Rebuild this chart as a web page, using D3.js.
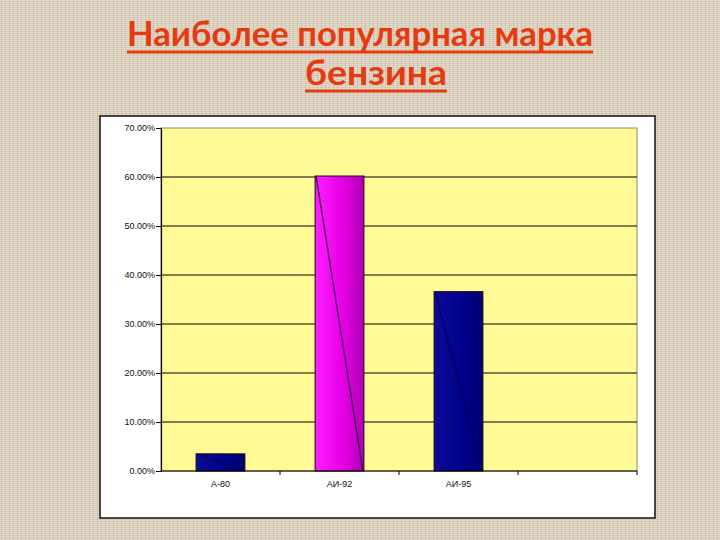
<!DOCTYPE html>
<html><head><meta charset="utf-8">
<script src="https://cdn.jsdelivr.net/npm/d3@7"></script>
<style>html,body{margin:0;padding:0;background:#DAD0BF;}svg{display:block;}</style>
</head><body>
<svg id="c" width="720" height="540"></svg>
<script>
const titleLines = ["Наиболее популярная марка", "бензина"];
const categories = ["А-80", "АИ-92", "АИ-95", ""];
const values = [3.5, 60.2, 36.6, null];
const barColors = ["navy", "magenta", "navy", null];
const yTicks = [0, 10, 20, 30, 40, 50, 60, 70];

const svg = d3.select("#c");
const defs = svg.append("defs");

// linen-like background texture
const pat = defs.append("pattern").attr("id","linen").attr("width",8).attr("height",8).attr("patternUnits","userSpaceOnUse");
pat.append("rect").attr("width",8).attr("height",8).attr("fill","#D6CCBA");
[0,2,4,6].forEach(y=>pat.append("rect").attr("x",0).attr("y",y).attr("width",8).attr("height",1).attr("fill","#E8DFCF").attr("opacity",0.85));
[1,5].forEach(x=>pat.append("rect").attr("x",x).attr("y",0).attr("width",1).attr("height",8).attr("fill","#C4B8A3").attr("opacity",0.6));
svg.append("rect").attr("width",720).attr("height",540).attr("fill","url(#linen)");

// gradients
const gMag = defs.append("linearGradient").attr("id","gmag").attr("x1","0").attr("x2","1").attr("y1","0").attr("y2","0");
gMag.append("stop").attr("offset","0%").attr("stop-color","#FF1EFF");
gMag.append("stop").attr("offset","55%").attr("stop-color","#E800E8");
gMag.append("stop").attr("offset","100%").attr("stop-color","#B000B4");
const gNav = defs.append("linearGradient").attr("id","gnav").attr("x1","0").attr("x2","1").attr("y1","0").attr("y2","0");
gNav.append("stop").attr("offset","0%").attr("stop-color","#0C0C98");
gNav.append("stop").attr("offset","60%").attr("stop-color","#00008A");
gNav.append("stop").attr("offset","100%").attr("stop-color","#000070");
const fillFor = c => c === "magenta" ? "url(#gmag)" : "url(#gnav)";
const lineFor = c => c === "magenta" ? "#3A0050" : "#000040";

// title (one text element, two lines)
const titleColor = "#E63A10";
const titleSpecs = [{x0:127, x1:593, base:46, ul:52},{x0:305, x1:447, base:85, ul:91}];
const title = svg.append("text")
  .attr("font-family","Lato, 'Open Sans', sans-serif")
  .attr("font-weight","bold").attr("font-size",35)
  .attr("fill",titleColor);
titleLines.forEach((t,i)=>{
  const s = titleSpecs[i];
  title.append("tspan").text(t).attr("x",s.x0).attr("y",s.base)
    .attr("textLength",s.x1-s.x0).attr("lengthAdjust","spacingAndGlyphs");
  svg.append("rect").attr("x",s.x0).attr("y",s.ul-1.5).attr("width",s.x1-s.x0).attr("height",3).attr("fill",titleColor);
});

// chart box
svg.append("rect").attr("x",100).attr("y",116).attr("width",555).attr("height",402)
  .attr("fill","#FFFFFF").attr("stroke","#111").attr("stroke-width",1.5);

const plot = {l:161, r:637, t:128, b:471};
const x = d3.scaleBand().domain(categories.map((c,i)=>i)).range([plot.l, plot.r]).paddingInner(0).paddingOuter(0);
const y = d3.scaleLinear().domain([0,70]).range([plot.b, plot.t]);

svg.append("rect").attr("x",plot.l).attr("y",plot.t).attr("width",plot.r-plot.l).attr("height",plot.b-plot.t)
  .attr("fill","#FFFA96").attr("stroke","#8C8C60").attr("stroke-width",1);

// gridlines
svg.append("g").selectAll("line").data(yTicks.filter(v=>v>0 && v<70)).join("line")
  .attr("x1",plot.l).attr("x2",plot.r).attr("y1",d=>y(d)).attr("y2",d=>y(d))
  .attr("stroke","#000").attr("stroke-width",1.2);

// bars
const barW = x.bandwidth()*0.41;
const data = categories.map((c,i)=>({i, c, v: values[i], col: barColors[i]})).filter(d=>d.v!=null);
const bars = svg.append("g");
data.forEach(d=>{
  const cx = x(d.i) + x.bandwidth()/2;
  const x0 = cx - barW/2, x1 = cx + barW/2;
  bars.append("rect").attr("x",x0).attr("y",y(d.v)).attr("width",barW).attr("height",y(0)-y(d.v))
    .attr("fill",fillFor(d.col)).attr("stroke","#1a001a").attr("stroke-width",1);
  bars.append("line").attr("x1",x0+1).attr("y1",y(d.v)).attr("x2",x1-1).attr("y2",y(0))
    .attr("stroke",lineFor(d.col)).attr("stroke-width",1.4).attr("opacity",d.col==="magenta"?0.9:0.6);
});

// y axis
const yAxis = d3.axisLeft(y).tickValues(yTicks).tickFormat(v=>v.toFixed(2)+"%").tickSize(5).tickPadding(1);
const ya = svg.append("g").attr("transform",`translate(${plot.l},0)`).call(yAxis);
ya.select(".domain").attr("stroke","#000").attr("stroke-width",1.2);
ya.selectAll(".tick line").attr("stroke","#000");
ya.selectAll("text").attr("font-family","'Liberation Sans', Arial, sans-serif").attr("font-size",9).attr("fill","#111");

// x axis
const xa = svg.append("g").attr("transform",`translate(0,${plot.b})`);
xa.append("line").attr("x1",plot.l).attr("x2",plot.r).attr("y1",0).attr("y2",0).attr("stroke","#000").attr("stroke-width",1.2);
xa.selectAll("line.tk").data(categories.map((c,i)=>i)).join("line").attr("class","tk")
  .attr("x1",d=>x(d)+x.bandwidth()).attr("x2",d=>x(d)+x.bandwidth()).attr("y1",0).attr("y2",4)
  .attr("stroke","#000");
xa.selectAll("text").data(categories.map((c,i)=>({c,i}))).join("text")
  .attr("x",d=>x(d.i)+x.bandwidth()/2).attr("y",16).attr("text-anchor","middle")
  .attr("font-family","'Liberation Sans', Arial, sans-serif").attr("font-size",9).attr("fill","#111")
  .text(d=>d.c);
</script>
</body></html>
